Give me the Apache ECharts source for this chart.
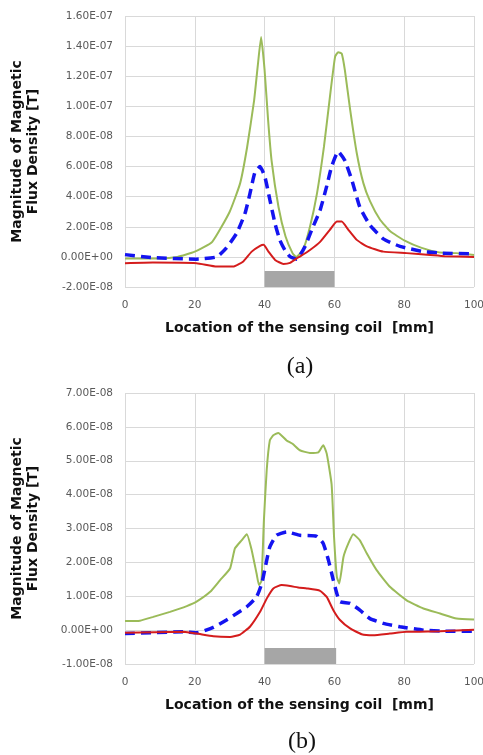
<!DOCTYPE html>
<html>
<head>
<meta charset="utf-8">
<script src="https://cdn.jsdelivr.net/npm/echarts@6/dist/echarts.min.js"></script>
<style>html,body{margin:0;padding:0;background:#fff}#c{width:483px;height:755px}</style>
</head>
<body>
<div id="c"></div>
<script>
// Values are in units of 1e-8 T; x in mm
const xTicks = [0, 20, 40, 60, 80, 100];

// (a)
const aGreenX = [0,5,10,15,20,25,30,33,35,37,38,39,40,41,42,44,46,48,49,51,53,55,57,58.7,60.2,61.1,62.1,63,64.5,66.4,68.3,70.2,73,76,80,85,90,95,100];
const aGreenY = [-0.1,-0.1,-0.1,0.0,0.35,1.0,3.0,4.9,7.3,10.4,12.6,14.6,12.4,9.1,6.4,3.3,1.35,0.25,0.0,0.46,2.0,4.2,7.3,10.6,13.3,13.6,13.5,12.4,9.8,6.9,4.9,3.7,2.5,1.7,1.1,0.6,0.3,0.25,0.13];
const aBlueX = [0,8,20.5,26.3,29,32,34.4,35.8,37.2,38.7,40.1,41.5,43,44.4,45.8,47.3,49.2,51.6,53.5,55.9,57.8,59.2,61.1,63,65,67.3,70.2,74,78.8,85.5,91,100];
const aBlueY = [0.15,-0.05,-0.15,0,0.58,1.57,2.9,4.2,5.6,6.0,5.3,3.8,2.2,1.1,0.46,0.02,-0.15,0.7,1.8,3.1,4.7,6.0,7.0,6.4,5.1,3.3,2.1,1.2,0.7,0.35,0.25,0.2];
const aRedX = [0,8,20.5,26.3,31,33.9,36.3,38.7,39.7,41.1,43,45.4,47.3,49.2,50.1,53,55.9,58.7,60.7,62.1,64,66.4,69.3,74,80.7,87.4,91.6,100];
const aRedY = [-0.42,-0.38,-0.42,-0.64,-0.64,-0.3,0.35,0.73,0.8,0.35,-0.2,-0.47,-0.4,-0.1,0.02,0.46,1.0,1.8,2.35,2.35,1.8,1.13,0.7,0.35,0.25,0.13,0.05,0.0];
const aCoilX = [40, 60];
const aCoilY = [-2, -0.93];

// (b)
const bGreenX = [0,4.3,8.1,12.9,17.7,20.5,24.4,27.2,30.1,31.5,33.4,34.9,36.3,37.7,38.4,39.1,39.8,40.6,41.5,42.5,43.9,46.3,48,50.1,53,55.4,56.8,57.8,59.2,59.9,60.7,61.4,62.6,64,65.4,67.3,69.3,72.1,75.9,80.7,85.5,90.3,95,100];
const bGreenY = [0.27,0.28,0.39,0.54,0.71,0.84,1.13,1.47,1.82,2.41,2.65,2.83,2.36,1.67,1.33,1.45,3.24,4.72,5.6,5.75,5.82,5.6,5.5,5.31,5.23,5.25,5.46,5.21,4.3,2.75,1.57,1.38,2.16,2.56,2.83,2.65,2.26,1.77,1.28,0.88,0.64,0.49,0.34,0.31];
const bBlueX = [0,16.7,20.5,25.3,29.1,32,34.9,37.7,39.2,40.6,41.5,43.4,46.3,50.1,54.9,56.8,58.3,59.7,60.7,61.6,64.5,67.3,70.2,74,78.8,85.5,91.5,100];
const bBlueY = [-0.1,-0.05,-0.08,0.08,0.3,0.49,0.69,0.98,1.38,2.06,2.46,2.8,2.9,2.8,2.77,2.56,2.06,1.47,1.08,0.84,0.79,0.59,0.34,0.2,0.1,0.0,-0.03,-0.03];
const bRedX = [0,16.7,20.5,25.3,30.1,33,35.8,38.7,40.6,42.5,44.9,47.3,50.1,52.1,55.9,57.8,59.7,61.6,64.5,67.8,71.1,75.9,80.7,90.3,100];
const bRedY = [-0.08,-0.05,-0.1,-0.18,-0.2,-0.13,0.1,0.54,0.93,1.23,1.33,1.3,1.25,1.23,1.16,0.98,0.59,0.3,0.05,-0.12,-0.15,-0.1,-0.05,-0.03,0.01];
const bCoilX = [40, 60.5];
const bCoilY = [-1, -0.53];

const yNameText = 'Magnitude of Magnetic\nFlux Density [T]';
const xNameText = 'Location of the sensing coil  [mm]';
const captions = ['(a)', '(b)'];

function zip(xs, ys){ return xs.map((x,i)=>[x, ys[i]]); }
function sci(v){
  const s = (v*1e-8).toExponential(2);
  return s.replace(/e([+-])(\d+)$/, function(m, sg, d){ return 'E' + sg + (d.length < 2 ? '0' + d : d); });
}
const tickFont = {color:'#595959', fontSize:10.5, fontFamily:'DejaVu Sans'};
const split = {show:true, lineStyle:{color:'#d9d9d9', width:1}};
function xAx(gi){
  return {type:'value', gridIndex:gi, min:0, max:100, interval:20,
    axisLine:{show:false}, axisTick:{show:false}, splitLine:split,
    axisLabel:Object.assign({margin:13}, tickFont),
    name:xNameText, nameLocation:'middle', nameGap:34,
    nameTextStyle:{color:'#111', fontSize:14, fontWeight:'bold', fontFamily:'DejaVu Sans'}};
}
function yAx(gi, mn, mx, iv){
  return {type:'value', gridIndex:gi, min:mn, max:mx, interval:iv,
    axisLine:{show:false}, axisTick:{show:false}, splitLine:split,
    axisLabel:Object.assign({margin:12, formatter:sci}, tickFont),
    name:yNameText, nameLocation:'middle', nameGap:84, nameRotate:90,
    nameTextStyle:{color:'#111', fontSize:14, fontWeight:'bold', fontFamily:'DejaVu Sans', lineHeight:16, align:'center'}};
}
function line(gi, xs, ys, color, width, type, extra){
  return Object.assign({type:'line', xAxisIndex:gi, yAxisIndex:gi, data:zip(xs, ys), showSymbol:false, symbol:'none',
    smooth:0.15, lineStyle:{color:color, width:width, type:type}, itemStyle:{color:color}}, extra||{});
}
function coil(cx, cy){
  return {silent:true, itemStyle:{color:'#a6a6a6', opacity:1},
    data:[[{coord:[cx[0], cy[1]]},{coord:[cx[1], cy[0]]}]]};
}
const GREEN = '#9bbb59', BLUE = '#1414f0', RED = '#d41c1c';
const option = {
  animation:false,
  backgroundColor:'#fff',
  grid:[{left:125, right:9, top:16, height:271, outerBoundsMode:'none', containLabel:false},
        {left:125, right:9, top:393, height:271, outerBoundsMode:'none', containLabel:false}],
  xAxis:[xAx(0), xAx(1)],
  yAxis:[yAx(0,-2,16,2), yAx(1,-1,7,1)],
  series:[
    line(0, aGreenX, aGreenY, GREEN, 2, 'solid'),
    line(0, aBlueX, aBlueY, BLUE, 3.5, [10,6]),
    line(0, aRedX, aRedY, RED, 2, 'solid', {markArea:coil(aCoilX, aCoilY)}),
    line(1, bGreenX, bGreenY, GREEN, 2, 'solid'),
    line(1, bBlueX, bBlueY, BLUE, 3.5, [10,6]),
    line(1, bRedX, bRedY, RED, 2, 'solid', {markArea:coil(bCoilX, bCoilY)})
  ],
  graphic:[
    {type:'text', x:300, y:367, style:{text:captions[0], align:'center', verticalAlign:'middle', font:'24px "Liberation Serif"', fill:'#111'}},
    {type:'text', x:302, y:742, style:{text:captions[1], align:'center', verticalAlign:'middle', font:'24px "Liberation Serif"', fill:'#111'}}
  ]
};
const chart = echarts.init(document.getElementById('c'), null, {renderer:'canvas'});
chart.setOption(option);
</script>
</body>
</html>
